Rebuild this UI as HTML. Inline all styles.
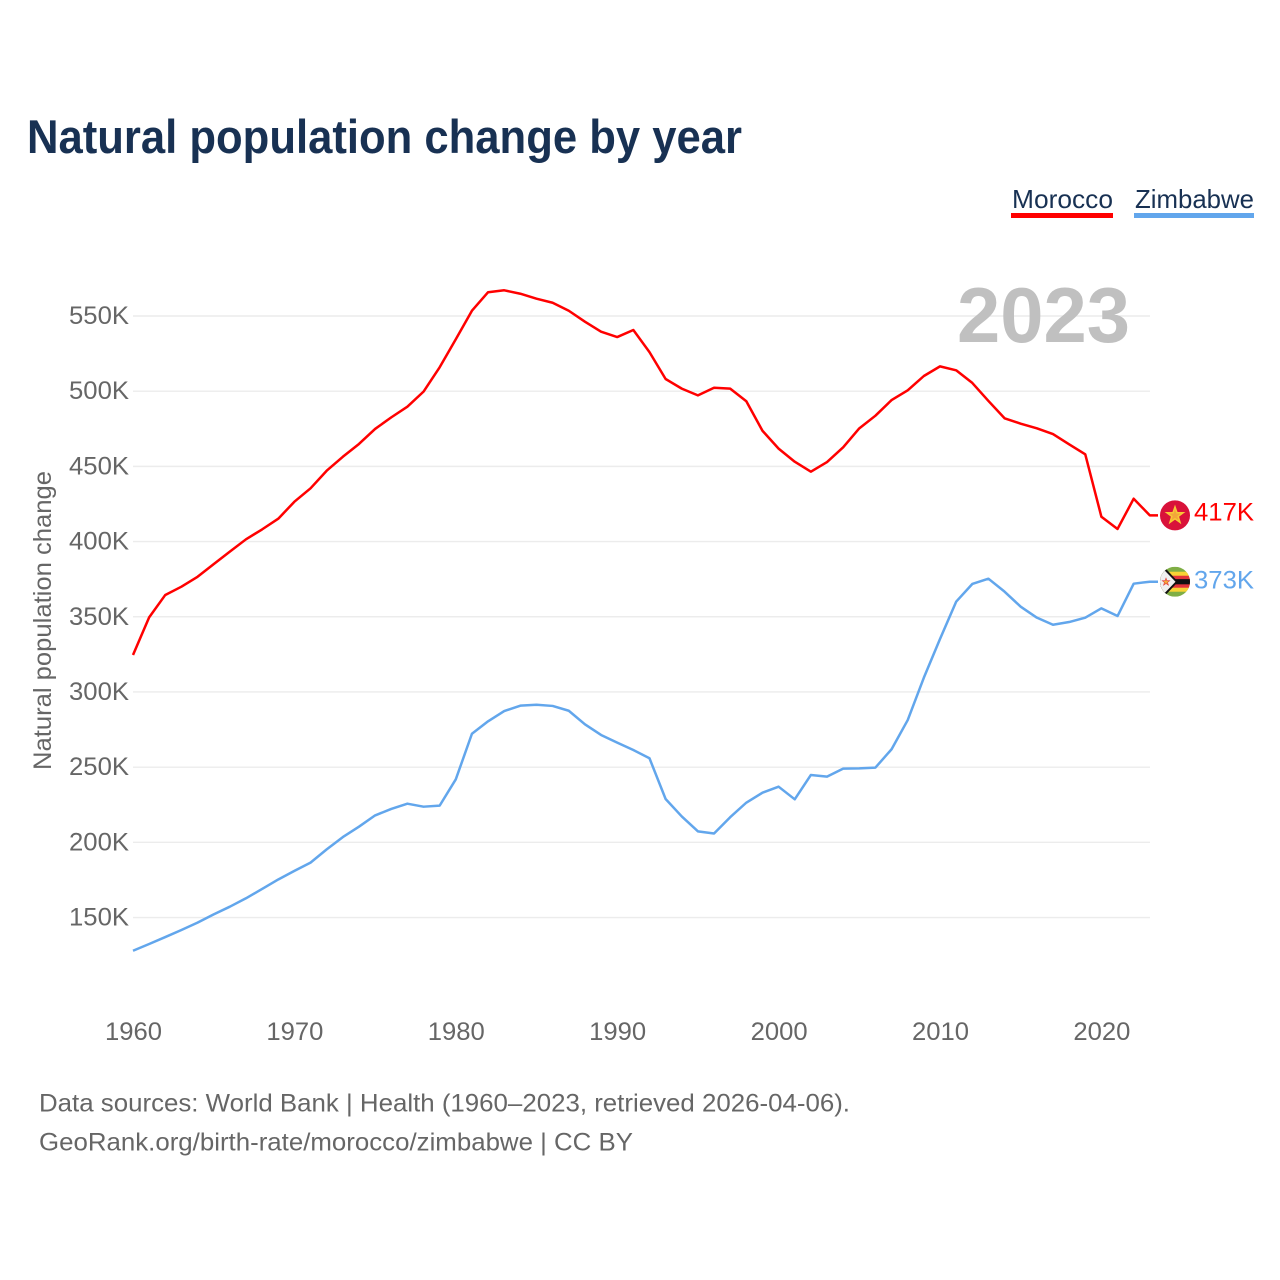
<!DOCTYPE html>
<html lang="en">
<head>
<meta charset="utf-8">
<title>Natural population change by year</title>
<style>
html,body{margin:0;padding:0;background:#fff;}
svg{display:block;}
text{font-family:"Liberation Sans",sans-serif;}
</style>
</head>
<body>
<svg id="chart" xmlns="http://www.w3.org/2000/svg" width="1280" height="1280" viewBox="0 0 1280 1280">
  <rect x="0" y="0" width="1280" height="1280" fill="#ffffff"/>
  <text x="27" y="153" font-size="47" font-weight="700" fill="#183153" textLength="715" lengthAdjust="spacingAndGlyphs">Natural population change by year</text>

  <g>
    <g>
      <text x="1012" y="208" font-size="26" fill="#183153" textLength="101" lengthAdjust="spacingAndGlyphs">Morocco</text>
      <rect x="1011" y="213" width="102" height="5" fill="#ff0000"/>
    </g>
    <g>
      <text x="1135" y="208" font-size="26" fill="#183153" textLength="119" lengthAdjust="spacingAndGlyphs">Zimbabwe</text>
      <rect x="1134" y="213" width="120" height="5" fill="#62a6ec"/>
    </g>
  </g>

  <g id="grid"></g>
  <text x="957" y="342" font-size="78" font-weight="700" fill="#c0c0c0" textLength="173" lengthAdjust="spacingAndGlyphs">2023</text>
  <g id="yTicks"></g>
  <g id="xTicks"></g>
  <text transform="translate(51,770) rotate(-90)" x="0" y="0" font-size="25" fill="#666666" textLength="299" lengthAdjust="spacingAndGlyphs">Natural population change</text>

  <g id="series"></g>

  <defs>
    <clipPath id="flagClip"><circle cx="0" cy="0" r="15"/></clipPath>
  </defs>

  <g id="flagMorocco">
    <circle cx="0" cy="0" r="15" fill="#d9123a"/>
    <polygon points="0,-8.5 2,-2.6 8.1,-2.6 3.2,1 5,7 0,3.4 -5,7 -3.2,1 -8.1,-2.6 -2,-2.6" fill="#f3a63a" stroke="#f7c935" stroke-width="1.5"/>
  </g>

  <g id="flagZimbabwe">
    <g clip-path="url(#flagClip)">
      <rect x="-15" y="-15" width="30" height="30" fill="#7fae45"/>
      <rect x="-15" y="-10" width="30" height="20" fill="#f7d335"/>
      <rect x="-15" y="-6" width="30" height="12" fill="#e2343a"/>
      <rect x="-15" y="-2.6" width="30" height="5.2" fill="#111111"/>
      <polygon points="-15,-15 -11,-15 3,0 -11,15 -15,15" fill="#111111"/>
      <polygon points="-15,-14 -12,-13 0.5,0 -12,13 -15,14" fill="#f0f0f0"/>
      <polygon points="-9,-3.6 -8,-1 -5.3,-1 -7.4,0.7 -6.6,3.4 -9,1.8 -11.4,3.4 -10.6,0.7 -12.7,-1 -10,-1" fill="#f2a93b" stroke="#e2343a" stroke-width="0.6"/>
    </g>
  </g>

  <text id="labelMorocco" x="1194" font-size="25" fill="#ff0000" textLength="60" lengthAdjust="spacingAndGlyphs"></text>
  <text id="labelZimbabwe" x="1194" font-size="25" fill="#62a6ec" textLength="60" lengthAdjust="spacingAndGlyphs"></text>

  <text x="39" y="1111.5" font-size="25" fill="#666666" textLength="811" lengthAdjust="spacingAndGlyphs">Data sources: World Bank | Health (1960–2023, retrieved 2026-04-06).</text>
  <text x="39" y="1150.5" font-size="25" fill="#666666" textLength="594" lengthAdjust="spacingAndGlyphs">GeoRank.org/birth-rate/morocco/zimbabwe | CC BY</text>
</svg>

<script>
const startYear = 1960;
const yTickValues = [150, 200, 250, 300, 350, 400, 450, 500, 550];
const xTickYears = [1960, 1970, 1980, 1990, 2000, 2010, 2020];
const moroccoValues = [
  324.6, 349.6, 364.5, 370.0, 376.6, 385.0, 393.3, 401.5, 408.1, 415.2,
  426.5, 435.4, 447.1, 456.4, 464.9, 474.9, 482.6, 489.7, 499.7, 515.9,
  534.5, 553.5, 565.8, 567.1, 564.8, 561.5, 558.8, 553.5, 546.2, 539.6,
  536.0, 540.7, 526.0, 508.1, 501.7, 497.2, 502.3, 501.7, 493.3, 473.7,
  461.8, 453.1, 446.5, 452.9, 462.7, 475.3, 483.7, 494.1, 500.6, 510.1,
  516.5, 513.9, 505.5, 493.5, 482.0, 478.4, 475.3, 471.5, 464.7, 458.0,
  416.5, 408.4, 428.5, 417.4
];
const zimbabweValues = [
  127.9, 132.4, 137.0, 141.7, 146.6, 152.1, 157.2, 162.8, 169.0, 175.3,
  181.0, 186.5, 195.3, 203.5, 210.4, 217.9, 222.2, 225.7, 223.7, 224.4,
  241.9, 272.2, 280.5, 287.3, 290.9, 291.5, 290.7, 287.5, 278.5, 271.4,
  266.3, 261.4, 255.9, 228.8, 217.2, 207.3, 205.9, 216.7, 226.4, 233.0,
  237.0, 228.6, 244.8, 243.7, 249.0, 249.2, 249.7, 261.9, 281.3, 309.5,
  335.2, 360.0, 371.8, 375.3, 366.7, 356.7, 349.4, 344.7, 346.5, 349.4,
  355.6, 350.5, 372.0, 373.3
];

const NS = 'http://www.w3.org/2000/svg';
function xScale(year) { return 133 + (year - 1960) * 16.14; }
function yScale(value) { return 316 + (550 - value) * 1.5038; }
function linePath(values) {
  return values.map(function (v, i) {
    return (i ? 'L' : 'M') + xScale(startYear + i).toFixed(2) + ' ' + yScale(v).toFixed(2);
  }).join(' ');
}

const gridGroup = document.getElementById('grid');
const yTickGroup = document.getElementById('yTicks');
yTickValues.forEach(function (v) {
  const line = document.createElementNS(NS, 'line');
  
  
  line.setAttribute('x1', 133);
  line.setAttribute('x2', 1150);
  line.setAttribute('y1', yScale(v));
  line.setAttribute('y2', yScale(v));
  line.setAttribute('stroke', '#ececec');
  line.setAttribute('stroke-width', '1.4');
  gridGroup.appendChild(line);

  const label = document.createElementNS(NS, 'text');
  
  
  label.setAttribute('x', 69);
  label.setAttribute('y', yScale(v) + 8);
  label.setAttribute('font-size', '25');
  label.setAttribute('fill', '#666666');
  label.setAttribute('textLength', '60');
  label.setAttribute('lengthAdjust', 'spacingAndGlyphs');
  label.textContent = v + 'K';
  yTickGroup.appendChild(label);
});

const xTickGroup = document.getElementById('xTicks');
xTickYears.forEach(function (year) {
  const label = document.createElementNS(NS, 'text');
  
  
  label.setAttribute('x', xScale(year) - 28);
  label.setAttribute('y', 1040);
  label.setAttribute('font-size', '25');
  label.setAttribute('fill', '#666666');
  label.setAttribute('textLength', '57');
  label.setAttribute('lengthAdjust', 'spacingAndGlyphs');
  label.textContent = String(year);
  xTickGroup.appendChild(label);
});

const seriesGroup = document.getElementById('series');

const moroccoLine = document.createElementNS(NS, 'path');


moroccoLine.setAttribute('d', linePath(moroccoValues) + ' H1158');
moroccoLine.setAttribute('fill', 'none');
moroccoLine.setAttribute('stroke', '#ff0000');
moroccoLine.setAttribute('stroke-width', '2.5');
moroccoLine.setAttribute('stroke-linejoin', 'round');
seriesGroup.appendChild(moroccoLine);

const zimbabweLine = document.createElementNS(NS, 'path');


zimbabweLine.setAttribute('d', linePath(zimbabweValues) + ' H1158');
zimbabweLine.setAttribute('fill', 'none');
zimbabweLine.setAttribute('stroke', '#62a6ec');
zimbabweLine.setAttribute('stroke-width', '2.5');
zimbabweLine.setAttribute('stroke-linejoin', 'round');
seriesGroup.appendChild(zimbabweLine);

const moroccoLast = moroccoValues[moroccoValues.length - 1];
const zimbabweLast = zimbabweValues[zimbabweValues.length - 1];
document.getElementById('flagMorocco').setAttribute('transform', 'translate(1175,' + yScale(moroccoLast).toFixed(2) + ')');
document.getElementById('flagZimbabwe').setAttribute('transform', 'translate(1175,' + yScale(zimbabweLast).toFixed(2) + ')');
const labelMorocco = document.getElementById('labelMorocco');
labelMorocco.setAttribute('y', (yScale(moroccoLast) + 5).toFixed(2));
labelMorocco.textContent = Math.round(moroccoLast) + 'K';
const labelZimbabwe = document.getElementById('labelZimbabwe');
labelZimbabwe.setAttribute('y', (yScale(zimbabweLast) + 7).toFixed(2));
labelZimbabwe.textContent = Math.round(zimbabweLast) + 'K';
</script>
</body>
</html>
